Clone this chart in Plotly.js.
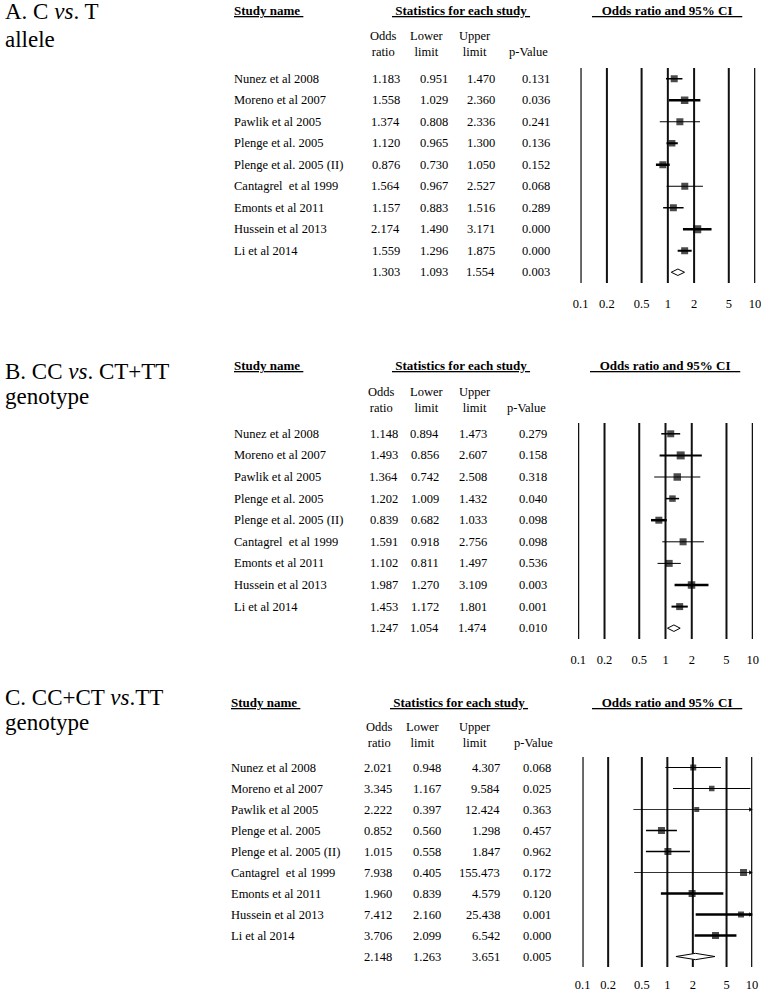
<!DOCTYPE html>
<html>
<head>
<meta charset="utf-8">
<script src="https://cdn.plot.ly/plotly-3.0.1.min.js"></script>
<style>
  html, body { margin: 0; padding: 0; background: #fff; }
  #chart { width: 761px; height: 992px; }
</style>
</head>
<body>
<div id="chart"></div>
<script>
// study names (same order in all three panels)
const studies = ["Nunez et al 2008", "Moreno et al 2007", "Pawlik et al 2005", "Plenge et al. 2005",
  "Plenge et al. 2005 (II)", "Cantagrel\u00a0 et al 1999", "Emonts et al 2011", "Hussein et al 2013", "Li et al 2014"];

// A. C vs. T allele (last value = pooled)
const orA  = [1.183, 1.558, 1.374, 1.120, 0.876, 1.564, 1.157, 2.174, 1.559, 1.303];
const lowA = [0.951, 1.029, 0.808, 0.965, 0.730, 0.967, 0.883, 1.490, 1.296, 1.093];
const upA  = [1.470, 2.360, 2.336, 1.300, 1.050, 2.527, 1.516, 3.171, 1.875, 1.554];
const pA   = ["0.131", "0.036", "0.241", "0.136", "0.152", "0.068", "0.289", "0.000", "0.000", "0.003"];

// B. CC vs. CT+TT genotype
const orB  = [1.148, 1.493, 1.364, 1.202, 0.839, 1.591, 1.102, 1.987, 1.453, 1.247];
const lowB = [0.894, 0.856, 0.742, 1.009, 0.682, 0.918, 0.811, 1.270, 1.172, 1.054];
const upB  = [1.473, 2.607, 2.508, 1.432, 1.033, 2.756, 1.497, 3.109, 1.801, 1.474];
const pB   = ["0.279", "0.158", "0.318", "0.040", "0.098", "0.098", "0.536", "0.003", "0.001", "0.010"];

// C. CC+CT vs. TT genotype
const orC  = [2.021, 3.345, 2.222, 0.852, 1.015, 7.938, 1.960, 7.412, 3.706, 2.148];
const lowC = [0.948, 1.167, 0.397, 0.560, 0.558, 0.405, 0.839, 2.160, 2.099, 1.263];
const upC  = [4.307, 9.584, 12.424, 1.298, 1.847, 155.473, 4.579, 25.438, 6.542, 3.651];
const pC   = ["0.068", "0.025", "0.363", "0.457", "0.962", "0.172", "0.120", "0.001", "0.000", "0.005"];

const tickVals = [0.1, 0.2, 0.5, 1, 2, 5, 10];
const tickText = ["0.1", "0.2", "0.5", "1", "2", "5", "10"];

const W = 761, H = 992;
const SERIF = "Liberation Serif, Times New Roman, serif";
const INK = "#000";
const px = x => x / W;
const py = y => 1 - y / H;

// per-panel layout: label lines, header rows, column right edges, axis pixel boxes
const panels = [
  { key: "", or: orA, low: lowA, up: upA, p: pA,
    label: ["A. C <i>vs</i>. T", "allele"], labelY: [11, 40],
    headY: 10, colHeadY: 44, cols: [402, 450, 497, 552], colHeadX: [384, 426, 475, 528],
    statX: 461, ciX: 667, nameX: 232, standoff: 11,
    xBox: [580.4, 755.3], yBox: [68, 283],
    box: [7, 7.5, 7, 6.5, 7, 7, 7, 8, 7], lw: [1.5, 2.5, 1, 2, 2.5, 1, 1.5, 2.5, 2] },
  { key: "2", or: orB, low: lowB, up: upB, p: pB,
    label: ["B. CC <i>vs</i>. CT+TT", "genotype"], labelY: [371, 396],
    headY: 366, colHeadY: 400, cols: [400, 441, 489, 549], colHeadX: [381, 426, 475, 526],
    statX: 461, ciX: 665, nameX: 232, standoff: 11,
    xBox: [578, 753], yBox: [423, 639],
    box: [7, 8, 7.5, 6.5, 7, 7, 7, 7.5, 7], lw: [1.5, 2, 1, 1.5, 2.5, 1, 1, 2.5, 2] },
  { key: "3", or: orC, low: lowC, up: upC, p: pC,
    label: ["C. CC+CT <i>vs</i>.TT", "genotype"], labelY: [697, 722],
    headY: 702, colHeadY: 735, cols: [394, 443, 502, 553], colHeadX: [379, 422, 475, 533],
    statX: 459, ciX: 667, nameX: 229, standoff: 8,
    xBox: [582.4, 752.3], yBox: [757, 967],
    box: [6, 5.5, 5, 7, 7, 7, 7, 6, 7], lw: [1, 1, 0.8, 1.5, 1.5, 0.8, 2.5, 2.5, 2.5] }
];

const traces = [];
const annotations = [];
const shapes = [];
const layout = {
  width: W, height: H,
  margin: { l: 0, r: 0, t: 0, b: 0 },
  paper_bgcolor: "#fff", plot_bgcolor: "rgba(0,0,0,0)",
  showlegend: false,
  font: { family: SERIF, color: INK, size: 12.5 },
  annotations: annotations,
  shapes: shapes
};

const nb = "\u00a0";

panels.forEach(P => {
  const xa = "x" + P.key, ya = "y" + P.key;
  const n = studies.length;

  // vertical reference lines at each tick value
  tickVals.forEach(v => shapes.push({
    type: "line", layer: "below", xref: xa, yref: ya + " domain",
    x0: v, x1: v, y0: 0, y1: 1, line: { color: "#111", width: 2 }
  }));

  // confidence interval lines, one per study
  for (let i = 0; i < n; i++) {
    traces.push({ type: "scatter", mode: "lines", xaxis: xa, yaxis: ya,
      x: [P.low[i], P.up[i]], y: [i, i],
      line: { color: INK, width: P.lw[i] }, hoverinfo: "skip" });
  }
  // arrows where the interval runs off the axis
  const offIdx = P.up.map((u, i) => (i < n && u > 10 ? i : -1)).filter(i => i >= 0);
  if (offIdx.length) {
    traces.push({ type: "scatter", mode: "markers", xaxis: xa, yaxis: ya,
      x: offIdx.map(() => 9.5), y: offIdx,
      marker: { symbol: "triangle-right", size: 4, color: INK }, hoverinfo: "skip" });
  }
  // study point estimates
  traces.push({ type: "scatter", mode: "markers", xaxis: xa, yaxis: ya,
    x: P.or.slice(0, n), y: studies.map((_, i) => i),
    marker: { symbol: "square", size: P.box, color: INK, line: { width: 0 } },
    text: studies, hoverinfo: "text+x" });
  // pooled diamond
  const h = 0.15;
  traces.push({ type: "scatter", mode: "lines", xaxis: xa, yaxis: ya, fill: "toself", fillcolor: "#fff",
    x: [P.low[n], P.or[n], P.up[n], P.or[n], P.low[n]],
    y: [n, n - h, n, n + h, n],
    line: { color: INK, width: 1 }, hoverinfo: "skip" });

  layout["xaxis" + P.key] = {
    type: "log", range: [-1.003, 1.003], domain: [px(P.xBox[0]), px(P.xBox[1])], anchor: ya,
    tickvals: tickVals, ticktext: tickText, ticks: "", ticklabelstandoff: P.standoff,
    ticklabeloverflow: "allow",
    tickfont: { family: SERIF, size: 12.5, color: INK },
    showgrid: false, zeroline: false, showline: false, fixedrange: true
  };
  layout["yaxis" + P.key] = {
    range: [n + 0.5, -0.5], domain: [py(P.yBox[1]), py(P.yBox[0])], anchor: xa,
    visible: false, showgrid: false, zeroline: false, fixedrange: true
  };

  // panel label
  P.label.forEach((t, k) => annotations.push({
    text: t, xref: "paper", yref: "paper", x: px(3), y: py(P.labelY[k]),
    xanchor: "left", yanchor: "middle", showarrow: false,
    font: { family: SERIF, size: 23, color: INK }
  }));

  // bold, underlined headers
  const hfont = { family: SERIF, size: 13, color: INK };
  annotations.push({ text: "<b><u>Study name" + nb + "</u></b>", xref: "paper", yref: "paper",
    x: px(P.nameX), y: py(P.headY), xanchor: "left", yanchor: "middle", showarrow: false, font: hfont });
  annotations.push({ text: "<b><u>" + nb + "Statistics for each study" + nb + "</u></b>", xref: "paper", yref: "paper",
    x: px(P.statX), y: py(P.headY), xanchor: "center", yanchor: "middle", showarrow: false, font: hfont });
  annotations.push({ text: "<b><u>" + nb + nb + nb + "Odds ratio and 95% CI" + nb + nb + nb + "</u></b>", xref: "paper", yref: "paper",
    x: px(P.ciX), y: py(P.headY), xanchor: "center", yanchor: "middle", showarrow: false, font: hfont });

  // column headers
  const colHeads = ["Odds<br>ratio", "Lower<br>limit", "Upper<br>limit", nb + "<br>p-Value"];
  colHeads.forEach((t, k) => annotations.push({
    text: t, xref: "paper", yref: "paper", x: px(P.colHeadX[k]), y: py(P.colHeadY),
    xanchor: "center", yanchor: "middle", showarrow: false, align: "center",
    font: { family: SERIF, size: 12.5, color: INK }
  }));

  // table rows
  for (let i = 0; i <= n; i++) {
    if (i < n) {
      annotations.push({ text: studies[i], xref: "paper", yref: ya, x: px(P.nameX), y: i,
        xanchor: "left", yanchor: "middle", showarrow: false });
    }
    const vals = [P.or[i].toFixed(3), P.low[i].toFixed(3), P.up[i].toFixed(3), P.p[i]];
    vals.forEach((v, k) => annotations.push({
      text: v, xref: "paper", yref: ya, x: px(P.cols[k]), y: i,
      xanchor: "right", yanchor: "middle", showarrow: false
    }));
  }
});

Plotly.newPlot("chart", traces, layout, { displayModeBar: false, staticPlot: true });
</script>
</body>
</html>
